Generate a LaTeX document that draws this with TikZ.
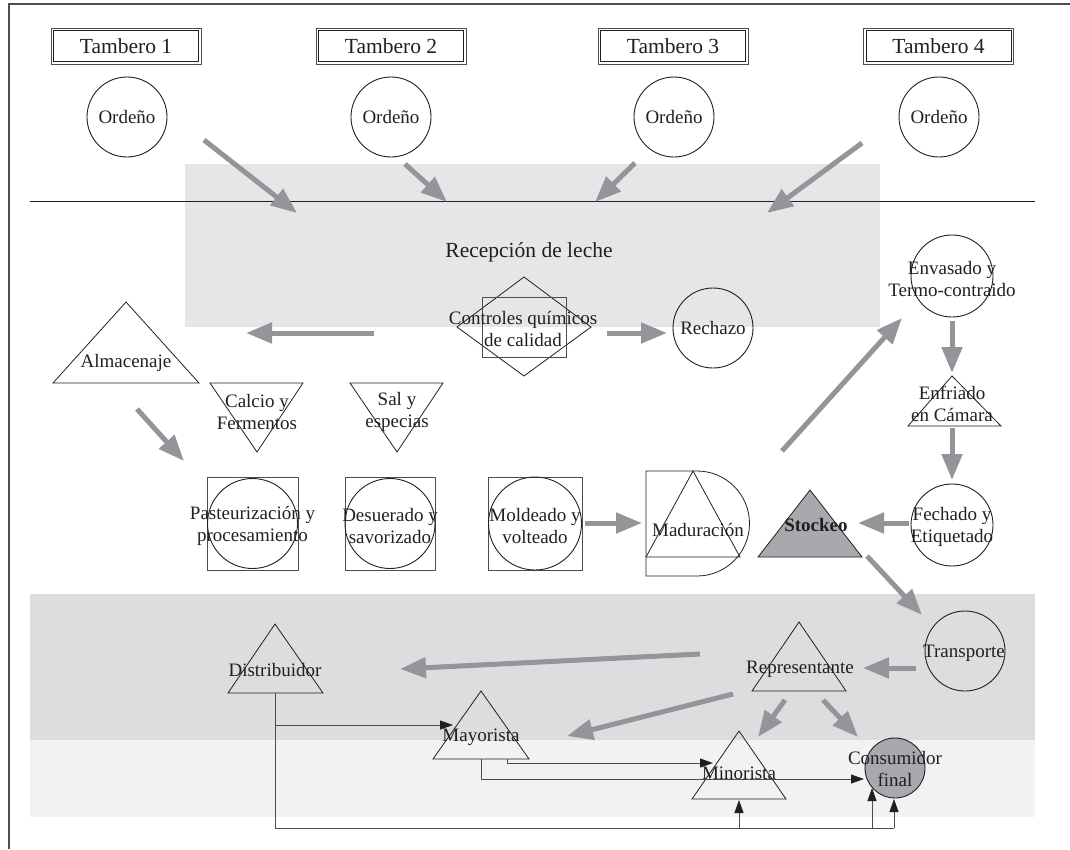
\documentclass[tikz,border=0pt]{standalone}
\usepackage{fontspec}
\setmainfont{Liberation Serif}
\usetikzlibrary{arrows.meta}
\definecolor{garrow}{HTML}{939598}
\definecolor{bandA}{HTML}{E5E6E8}
\definecolor{bandB}{HTML}{DCDDDF}
\definecolor{bandC}{HTML}{F1F2F3}
\definecolor{gfill}{HTML}{A7A9AC}
\definecolor{thinln}{HTML}{4D4D4F}
\definecolor{ink}{HTML}{231F20}
\tikzset{
  txt/.style={font=\fontsize{19}{22}\selectfont, align=center, inner sep=0pt, text=ink},
  bigtxt/.style={font=\fontsize{21.5}{24}\selectfont, align=center, inner sep=0pt, text=ink},
  circ/.style={circle, draw=ink, line width=0.9pt, minimum size=#1, inner sep=0pt},
  sqbox/.style={rectangle, draw=thinln, line width=0.9pt, minimum width=#1, minimum height=93pt, inner sep=0pt},
  shp/.style={draw=ink, line width=0.8pt},
  garr/.style={draw=garrow, line width=5pt, -{Triangle[length=26pt,width=20pt]}},
  karr/.style={draw=thinln, line width=0.9pt, -{Triangle[length=13pt,width=9pt,color=ink]}},
  kline/.style={draw=thinln, line width=0.9pt},
  tbox/.style={rectangle, draw=thinln, line width=1pt,
    minimum width=150pt, minimum height=36pt, inner sep=0pt, bigtxt},
  tinner/.style={draw=ink, line width=0.7pt}
}
\newcommand{\innerframe}[1]{\draw[tinner] ([shift={(3pt,3pt)}]#1.south west) rectangle ([shift={(-3pt,-3pt)}]#1.north east);}
\begin{document}
\begin{tikzpicture}[x=1pt,y=-1pt]
\useasboundingbox (0,0) rectangle (1070,849);
% frame
\draw[draw=thinln, line width=1.8pt] (9,849) -- (9,4) -- (1070,4);
% background bands
\fill[bandA] (185,164) rectangle (880,327);
\fill[bandB] (30,594) rectangle (1035,740);
\fill[bandC] (30,740) rectangle (1035,817);
\draw[draw=ink, line width=0.9pt] (30,201) -- (1035,201);

% Tambero boxes
\node[tbox] (t1) at (126,46) {Tambero 1};
\node[tbox] (t2) at (391,46) {Tambero 2};
\node[tbox] (t3) at (673,46) {Tambero 3};
\node[tbox] (t4) at (938.5,46) {Tambero 4};
\innerframe{t1}
\innerframe{t2}
\innerframe{t3}
\innerframe{t4}
% Ordeno
\node[circ=80pt] (o1) at (127,117) {};
\node[circ=80pt] (o2) at (391,117) {};
\node[circ=80pt] (o3) at (674,117) {};
\node[circ=80pt] (o4) at (939,117) {};
\node[txt] (o1t) at (o1) {Ordeño};
\node[txt] (o2t) at (o2) {Ordeño};
\node[txt] (o3t) at (o3) {Ordeño};
\node[txt] (o4t) at (o4) {Ordeño};

% arrows into reception
\coordinate (a1s) at (204,140); \coordinate (a1e) at (297,213);
\coordinate (a2s) at (405,164); \coordinate (a2e) at (447,202);
\coordinate (a3s) at (635,163); \coordinate (a3e) at (595,202);
\coordinate (a4s) at (862,143); \coordinate (a4e) at (767,213);
\draw[garr] (a1s) -- (a1e);
\draw[garr] (a2s) -- (a2e);
\draw[garr] (a3s) -- (a3e);
\draw[garr] (a4s) -- (a4e);

\node[bigtxt] (rec) at (529,252) {Recepción de leche};

% Controles
\draw[shp] (524,277) -- (591,327) -- (524,376) -- (457,327) -- cycle;
\node[rectangle, draw=thinln, line width=0.9pt, minimum width=84pt, minimum height=60pt, inner sep=0pt] (ctlbox) at (524,327) {};
\node[txt] (ctl) at (523,329) {Controles químicos\\de calidad};
\coordinate (cls) at (374,333); \coordinate (cle) at (246,333);
\coordinate (crs) at (607,333); \coordinate (cre) at (667,333);
\draw[garr] (cls) -- (cle);
\draw[garr] (crs) -- (cre);
\node[circ=80pt] (rech) at (713,328) {};
\node[txt] (recht) at (rech) {Rechazo};

% Almacenaje
\draw[shp] (126,302) -- (199,383) -- (53,383) -- cycle;
\node[txt] (alm) at (126,363) {Almacenaje};
% Calcio / Sal
\draw[shp] (210,383) -- (303,383) -- (257,452) -- cycle;
\node[txt] (cal) at (257,412) {Calcio y\\Fermentos};
\draw[shp] (350,383) -- (443,383) -- (397,452) -- cycle;
\node[txt] (sal) at (397,412) {Sal y\\especias};
\coordinate (aps) at (137,409); \coordinate (ape) at (184,461);
\draw[garr] (aps) -- (ape);

% process boxes
\node[sqbox=91pt] (pas) at (252.5,523.5) {};
\node[circ=90pt] (pasc) at (252.5,523.5) {};
\node[txt] (past) at (252.5,526) {Pasteurización y\\procesamiento};
\node[sqbox=90pt] (des) at (390,523.5) {};
\node[circ=90pt] (desc) at (390,523.5) {};
\node[txt] (dest) at (390,526) {Desuerado y\\savorizado};
\node[sqbox=94pt] (mol) at (535,523.5) {};
\node[circ=93pt] (molc) at (535,523.5) {};
\node[txt] (molt) at (535,526) {Moldeado y\\volteado};
\coordinate (ams) at (585,523); \coordinate (ame) at (642,523);
\draw[garr] (ams) -- (ame);

% Maduracion
\draw[shp] (646,471) -- (697,471) arc[start angle=-90, end angle=90, radius=52.5] -- (646,576) -- cycle;
\draw[shp] (646,557) -- (693,471) -- (740,557) -- cycle;
\node[txt] (mad) at (698,530) {Maduración};

% Stockeo
\filldraw[fill=gfill, draw=ink, line width=0.8pt] (810,490) -- (862,557) -- (758,557) -- cycle;
\node[txt, font=\fontsize{19}{22}\selectfont\bfseries] (sto) at (816,525) {Stockeo};

% right column
\node[circ=82pt] (env) at (952,276) {};
\node[txt] (envt) at (952,279) {Envasado y\\Termo-contraido};
\draw[shp] (952,376) -- (1001,426) -- (908,426) -- cycle;
\node[txt] (enf) at (952,404) {Enfriado\\en Cámara};
\node[circ=82pt] (fec) at (952,525) {};
\node[txt] (fect) at (952,527) {Fechado y\\Etiquetado};
\coordinate (e1s) at (952,321); \coordinate (e1e) at (952,373);
\coordinate (e2s) at (952,428); \coordinate (e2e) at (952,480);
\coordinate (fss) at (909,523); \coordinate (fse) at (858,523);
\coordinate (mes) at (782,451); \coordinate (mee) at (902,318);
\coordinate (sts) at (867,556); \coordinate (ste) at (922,615);
\draw[garr] (e1s) -- (e1e);
\draw[garr] (e2s) -- (e2e);
\draw[garr] (fss) -- (fse);
\draw[garr] (mes) -- (mee);
\draw[garr] (sts) -- (ste);

% distribution
\draw[shp] (275,624) -- (323,693) -- (228,693) -- cycle;
\node[txt] (dis) at (275,670) {Distribuidor};
\draw[shp] (799,622) -- (846,691) -- (752,691) -- cycle;
\node[txt] (rep) at (800,669) {Representante};
\node[circ=80pt] (tra) at (965,651) {};
\node[txt] (trat) at (964,653) {Transporte};
\coordinate (trs) at (916,668); \coordinate (tre) at (863,668);
\coordinate (rds) at (700,654); \coordinate (rde) at (400,669);
\coordinate (rms) at (733,694); \coordinate (rme) at (567,736);
\coordinate (rns) at (785,700); \coordinate (rne) at (758,737);
\coordinate (rcs) at (823,700); \coordinate (rce) at (858,737);
\draw[garr] (trs) -- (tre);
\draw[garr] (rds) -- (rde);
\draw[garr] (rms) -- (rme);
\draw[garr] (rns) -- (rne);
\draw[garr] (rcs) -- (rce);

\draw[shp] (481,691) -- (529,759) -- (433,759) -- cycle;
\node[txt] (may) at (481,737) {Mayorista};
\draw[shp] (739,731) -- (786,799) -- (692,799) -- cycle;
\node[circ=60pt, fill=gfill] (con) at (895,768) {};
\node[txt] (cont) at (895,769) {Consumidor\\final};

% black connectors
\coordinate (db) at (275,693);
\coordinate (dbl) at (275,828);
\coordinate (dbr) at (894,828);
\coordinate (dce) at (894,799);
\coordinate (dm) at (275,725);
\coordinate (dme) at (453,725);
\coordinate (mnb) at (739,828);
\coordinate (mne) at (739,800);
\coordinate (cnb) at (872,828);
\coordinate (cne) at (872,788);
\draw[kline] (db) -- (dbl) -- (dbr);
\draw[karr] (dbr) -- (dce);
\draw[karr] (dm) -- (dme);
\draw[karr] (mnb) -- (mne);
\draw[karr] (cnb) -- (cne);
\coordinate (m1) at (481,759); \coordinate (m1b) at (481,779); \coordinate (m1e) at (864,779);
\coordinate (m2) at (507,759); \coordinate (m2b) at (507,763); \coordinate (m2e) at (713,763);
\draw[karr] (m1) -- (m1b) -- (m1e);
\draw[karr] (m2) -- (m2b) -- (m2e);
\node[txt] (min) at (739,773) {Minorista};
\end{tikzpicture}
\end{document}
